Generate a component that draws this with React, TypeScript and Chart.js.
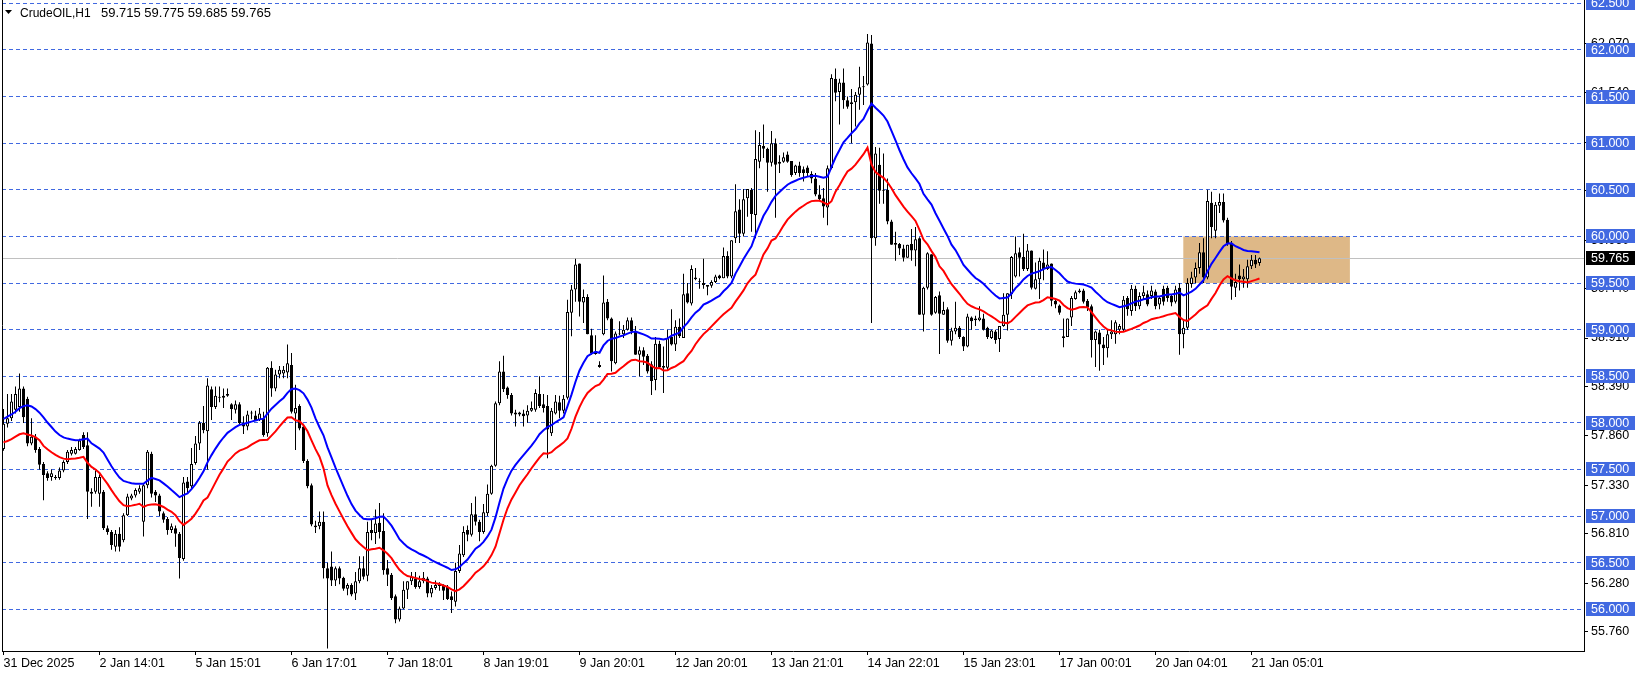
import React, { useEffect, useRef } from 'react';
import { Chart, registerables } from 'chart.js';

Chart.register(...registerables);

// ---- Data: CrudeOIL H1 candles ----
const opens = [
  57.72, 57.99, 58.05, 58.14, 58.17, 58.37, 58.26, 57.78, 57.85, 57.72,
  57.56, 57.46, 57.42, 57.42, 57.41, 57.49, 57.58, 57.67, 57.67, 57.71,
  57.87, 57.76, 57.26, 57.26, 57.24, 57.26, 56.87, 56.83, 56.67, 56.81,
  56.74, 57.01, 57.19, 57.22, 57.26, 56.94, 57.33, 57.67, 57.26, 57.22,
  57.03, 56.97, 56.85, 56.87, 56.81, 56.54, 57.37, 57.32, 57.57, 57.78,
  58.00, 57.91, 58.36, 58.17, 58.28, 58.27, 58.29, 58.20, 58.14, 58.20,
  58.00, 57.96, 58.10, 58.08, 58.03, 58.05, 57.89, 58.59, 58.37, 58.52,
  58.53, 58.54, 58.62, 58.10, 58.18, 57.96, 57.59, 57.33, 56.90, 56.89,
  56.94, 56.44, 56.46, 56.31, 56.44, 56.34, 56.22, 56.26, 56.17, 56.30,
  56.44, 56.36, 56.85, 56.82, 56.93, 56.84, 56.44, 56.37, 56.14, 55.89,
  56.01, 56.21, 56.30, 56.33, 56.24, 56.30, 56.33, 56.17, 56.23, 56.25,
  56.25, 56.24, 56.14, 56.08, 56.41, 56.58, 56.85, 56.80, 57.02, 56.94,
  56.83, 57.03, 57.24, 57.54, 58.21, 58.55, 58.38, 58.30, 58.11, 58.09,
  58.10, 58.08, 58.13, 58.14, 58.31, 58.20, 58.18, 57.89, 58.10, 58.22,
  58.13, 58.27, 59.18, 59.43, 59.71, 59.29, 59.35, 58.94, 58.76, 58.62,
  58.95, 59.30, 59.12, 58.64, 58.95, 58.95, 59.00, 59.10, 58.98, 58.73,
  58.78, 58.72, 58.63, 58.46, 58.85, 58.61, 58.59, 58.92, 58.84, 59.03,
  58.91, 59.39, 59.28, 59.56, 59.52, 59.50, 59.48, 59.47, 59.51, 59.58,
  59.55, 59.79, 59.57, 59.98, 60.29, 60.03, 60.41, 60.50, 60.23, 60.80,
  60.97, 60.94, 60.79, 61.00, 60.78, 60.80, 60.88, 60.81, 60.68, 60.76,
  60.72, 60.74, 60.67, 60.62, 60.45, 60.41, 60.31, 60.73, 61.69, 61.55,
  61.65, 61.46, 61.42, 61.44, 61.52, 61.60, 61.63, 62.07, 59.98, 60.77,
  60.50, 60.50, 60.16, 59.93, 59.92, 59.87, 59.77, 59.92, 59.85, 59.98,
  59.16, 59.45, 59.81, 59.18, 59.37, 59.16, 59.22, 58.88, 58.98, 59.02,
  58.92, 58.82, 59.13, 59.10, 59.10, 59.12, 59.02, 58.91, 58.98, 58.90,
  59.04, 59.16, 59.38, 59.57, 59.83, 59.78, 59.65, 59.85, 59.44, 59.54,
  59.72, 59.65, 59.71, 59.31, 59.26, 58.93, 58.92, 59.13, 59.33, 59.40,
  59.42, 59.31, 59.25, 58.89, 58.97, 58.84, 58.80, 58.95, 58.95, 59.00,
  59.00, 59.34, 59.20, 59.44, 59.25, 59.36, 59.38, 59.36, 59.41, 59.27,
  59.44, 59.45, 59.36, 59.30, 59.45, 58.95, 59.02, 59.49, 59.56, 59.66,
  59.83, 59.56, 60.36, 60.06, 60.33, 60.37, 60.18, 59.93, 59.45, 59.58,
  59.54, 59.54, 59.68, 59.75, 59.715,
];

const highs = [
  58.15, 58.31, 58.31, 58.39, 58.53, 58.39, 58.28, 58.05, 57.88, 57.74,
  57.58, 57.48, 57.50, 57.44, 57.52, 57.60, 57.71, 57.74, 57.74, 57.83,
  57.90, 57.90, 57.30, 57.49, 57.45, 57.28, 56.90, 56.85, 56.85, 56.88,
  57.03, 57.24, 57.24, 57.30, 57.33, 57.35, 57.71, 57.69, 57.28, 57.24,
  57.05, 56.99, 56.92, 56.90, 56.83, 57.42, 57.42, 57.73, 57.86, 58.02,
  58.18, 58.48, 58.39, 58.39, 58.39, 58.37, 58.37, 58.21, 58.24, 58.22,
  58.07, 58.13, 58.13, 58.13, 58.16, 58.12, 58.60, 58.66, 58.57, 58.61,
  58.61, 58.84, 58.75, 58.41, 58.20, 57.99, 57.61, 57.35, 56.95, 57.05,
  57.05, 56.50, 56.62, 56.46, 56.46, 56.35, 56.28, 56.28, 56.40, 56.57,
  56.57, 56.94, 56.96, 57.07, 57.14, 57.03, 56.53, 56.39, 56.16, 56.03,
  56.30, 56.30, 56.40, 56.40, 56.36, 56.40, 56.35, 56.26, 56.31, 56.29,
  56.27, 56.26, 56.19, 56.50, 56.69, 56.89, 56.90, 57.14, 57.21, 56.96,
  57.13, 57.34, 57.55, 58.23, 58.66, 58.72, 58.39, 58.32, 58.14, 58.12,
  58.14, 58.19, 58.23, 58.36, 58.50, 58.31, 58.30, 58.16, 58.30, 58.29,
  58.30, 59.32, 59.48, 59.76, 59.71, 59.43, 59.38, 59.01, 58.94, 58.66,
  59.58, 59.33, 59.13, 58.98, 59.09, 59.05, 59.13, 59.13, 59.04, 58.82,
  58.81, 58.74, 58.66, 58.92, 58.88, 58.82, 59.00, 59.22, 59.10, 59.12,
  59.60, 59.50, 59.69, 59.66, 59.55, 59.76, 59.48, 59.53, 59.59, 59.59,
  59.88, 59.84, 59.96, 60.56, 60.40, 60.51, 60.51, 60.52, 61.14, 61.12,
  61.20, 60.95, 61.13, 61.05, 60.87, 60.90, 60.91, 60.81, 60.77, 60.80,
  60.75, 60.76, 60.70, 60.68, 60.55, 60.52, 60.76, 61.74, 61.80, 61.69,
  61.80, 61.50, 61.58, 61.55, 61.82, 61.72, 62.17, 62.16, 60.96, 60.95,
  60.89, 60.62, 60.18, 60.05, 59.93, 59.91, 59.91, 60.08, 60.10, 59.99,
  59.46, 59.83, 59.81, 59.36, 59.41, 59.30, 59.24, 59.02, 59.30, 59.04,
  58.93, 59.17, 59.14, 59.15, 59.25, 59.17, 59.03, 59.00, 59.00, 59.04,
  59.39, 59.39, 59.79, 60.00, 59.88, 60.03, 59.92, 59.85, 59.72, 59.77,
  59.86, 59.84, 59.71, 59.33, 59.27, 59.12, 59.12, 59.36, 59.42, 59.44,
  59.44, 59.33, 59.27, 58.99, 59.00, 58.92, 59.00, 59.10, 59.10, 59.06,
  59.36, 59.36, 59.48, 59.47, 59.40, 59.47, 59.42, 59.47, 59.43, 59.36,
  59.47, 59.47, 59.38, 59.47, 59.50, 59.10, 59.55, 59.62, 59.72, 59.93,
  59.98, 60.50, 60.48, 60.37, 60.46, 60.46, 60.20, 59.95, 59.60, 59.70,
  59.65, 59.75, 59.80, 59.80, 59.775,
];

const lows = [
  57.70, 57.95, 58.02, 58.10, 58.12, 58.00, 57.75, 57.76, 57.68, 57.50,
  57.17, 57.38, 57.38, 57.39, 57.39, 57.47, 57.56, 57.65, 57.66, 57.70,
  57.72, 56.97, 57.10, 57.24, 57.10, 56.85, 56.80, 56.64, 56.62, 56.62,
  56.72, 57.00, 57.17, 57.20, 57.24, 56.78, 57.30, 57.20, 57.15, 57.00,
  56.93, 56.80, 56.82, 56.67, 56.33, 56.52, 57.25, 57.30, 57.55, 57.71,
  57.89, 57.50, 58.03, 58.15, 58.22, 58.16, 58.28, 58.03, 58.10, 57.98,
  57.88, 57.92, 58.04, 58.02, 58.02, 57.85, 57.85, 58.28, 58.34, 58.48,
  58.48, 58.48, 58.10, 57.71, 57.92, 57.57, 57.30, 56.89, 56.82, 56.86,
  56.33, 55.58, 56.25, 56.25, 56.27, 56.20, 56.15, 56.14, 56.10, 56.28,
  56.32, 56.30, 56.74, 56.70, 56.76, 56.37, 56.25, 56.10, 55.85, 55.87,
  56.00, 56.11, 56.26, 56.22, 56.22, 56.28, 56.13, 56.13, 56.21, 56.20,
  56.10, 56.10, 55.96, 56.03, 56.39, 56.56, 56.73, 56.78, 56.90, 56.73,
  56.81, 57.00, 57.23, 57.53, 58.19, 58.33, 58.26, 58.08, 57.96, 58.07,
  57.96, 58.00, 58.12, 58.12, 58.16, 58.11, 57.62, 57.86, 58.09, 58.05,
  58.10, 58.25, 58.93, 59.30, 59.14, 59.07, 58.95, 58.73, 58.73, 58.59,
  58.94, 59.10, 58.55, 58.63, 58.94, 58.91, 58.99, 58.95, 58.73, 58.50,
  58.62, 58.53, 58.30, 58.35, 58.60, 58.32, 58.57, 58.83, 58.77, 58.91,
  58.91, 59.28, 59.26, 59.53, 59.44, 59.44, 59.37, 59.45, 59.50, 59.54,
  59.55, 59.55, 59.55, 59.93, 59.93, 60.00, 60.21, 60.05, 59.98, 60.73,
  60.84, 60.48, 60.75, 60.20, 60.68, 60.79, 60.79, 60.64, 60.66, 60.64,
  60.59, 60.64, 60.57, 60.43, 60.38, 60.20, 60.12, 60.72, 61.45, 61.20,
  61.37, 61.37, 61.00, 61.18, 61.36, 61.41, 61.62, 59.07, 59.90, 60.35,
  60.35, 60.13, 59.91, 59.74, 59.80, 59.73, 59.77, 59.74, 59.68, 59.16,
  58.98, 59.43, 59.15, 59.17, 58.74, 59.16, 58.86, 58.83, 58.95, 58.90,
  58.77, 58.81, 59.00, 59.04, 59.09, 58.99, 58.90, 58.90, 58.85, 58.76,
  59.03, 58.99, 59.33, 59.56, 59.57, 59.63, 59.63, 59.43, 59.43, 59.33,
  59.53, 59.64, 59.25, 59.23, 59.16, 58.81, 58.92, 59.04, 59.32, 59.39,
  59.28, 59.20, 58.70, 58.60, 58.56, 58.62, 58.70, 58.90, 58.85, 58.95,
  58.98, 59.15, 59.15, 59.20, 59.22, 59.33, 59.25, 59.33, 59.22, 59.22,
  59.26, 59.30, 59.25, 59.28, 58.73, 58.80, 59.00, 59.45, 59.50, 59.60,
  59.50, 59.54, 59.98, 59.98, 60.25, 60.15, 59.90, 59.32, 59.35, 59.42,
  59.45, 59.45, 59.65, 59.66, 59.685,
];

const closes = [
  57.99, 58.05, 58.23, 58.31, 58.37, 58.06, 57.78, 57.85, 57.71, 57.55,
  57.44, 57.41, 57.46, 57.41, 57.49, 57.58, 57.69, 57.71, 57.72, 57.81,
  57.74, 57.26, 57.24, 57.42, 57.42, 56.87, 56.83, 56.69, 56.81, 56.67,
  57.01, 57.21, 57.22, 57.28, 57.30, 57.33, 57.69, 57.24, 57.22, 57.05,
  56.96, 56.85, 56.89, 56.81, 56.55, 57.36, 57.30, 57.56, 57.78, 58.00,
  57.92, 58.40, 58.17, 58.29, 58.27, 58.29, 58.31, 58.15, 58.20, 58.00,
  57.96, 58.09, 58.11, 58.03, 58.10, 57.87, 58.59, 58.37, 58.52, 58.57,
  58.57, 58.64, 58.12, 58.16, 57.94, 57.59, 57.32, 56.91, 56.88, 56.94,
  56.44, 56.33, 56.31, 56.44, 56.33, 56.22, 56.26, 56.16, 56.30, 56.44,
  56.35, 56.83, 56.82, 56.92, 56.83, 56.42, 56.37, 56.12, 55.89, 56.01,
  56.21, 56.30, 56.35, 56.24, 56.30, 56.34, 56.17, 56.23, 56.26, 56.27,
  56.20, 56.11, 56.10, 56.41, 56.60, 56.83, 56.80, 57.02, 56.94, 56.83,
  57.04, 57.24, 57.54, 58.21, 58.55, 58.36, 58.30, 58.10, 58.09, 58.11,
  58.07, 58.13, 58.16, 58.32, 58.18, 58.16, 57.93, 58.13, 58.23, 58.13,
  58.26, 59.19, 59.43, 59.70, 59.30, 59.35, 58.95, 58.75, 58.74, 58.60,
  59.29, 59.12, 58.66, 58.96, 58.96, 59.00, 59.10, 58.98, 58.73, 58.78,
  58.71, 58.55, 58.45, 58.85, 58.60, 58.59, 58.91, 58.84, 59.03, 58.93,
  59.38, 59.29, 59.65, 59.54, 59.51, 59.48, 59.46, 59.51, 59.57, 59.55,
  59.79, 59.57, 59.96, 60.27, 60.03, 60.40, 60.51, 60.24, 60.83, 60.98,
  60.94, 60.79, 61.00, 60.77, 60.80, 60.85, 60.80, 60.66, 60.76, 60.68,
  60.68, 60.68, 60.62, 60.45, 60.40, 60.32, 60.73, 61.70, 61.54, 61.65,
  61.46, 61.39, 61.44, 61.52, 61.60, 61.61, 62.08, 59.98, 60.89, 60.49,
  60.49, 60.16, 59.91, 59.91, 59.87, 59.77, 59.91, 59.85, 59.97, 59.16,
  59.45, 59.82, 59.16, 59.35, 59.17, 59.21, 58.88, 58.99, 59.02, 58.92,
  58.82, 59.14, 59.09, 59.12, 59.13, 59.00, 58.92, 58.99, 58.89, 59.04,
  59.16, 59.39, 59.78, 59.82, 59.77, 59.65, 59.85, 59.45, 59.54, 59.74,
  59.65, 59.70, 59.31, 59.27, 59.18, 58.91, 59.12, 59.34, 59.40, 59.42,
  59.30, 59.24, 58.89, 58.98, 58.84, 58.80, 58.95, 58.98, 59.08, 59.04,
  59.32, 59.22, 59.44, 59.25, 59.36, 59.40, 59.27, 59.42, 59.25, 59.34,
  59.30, 59.34, 59.29, 59.43, 58.95, 59.02, 59.50, 59.56, 59.66, 59.83,
  59.56, 60.38, 60.10, 60.34, 60.37, 60.17, 59.93, 59.46, 59.51, 59.54,
  59.57, 59.68, 59.75, 59.70, 59.765,
];

// Time-axis labels (one every 24 hourly bars)
const xTickLabels = [
  '31 Dec 2025', '2 Jan 14:01', '5 Jan 15:01', '6 Jan 17:01', '7 Jan 18:01',
  '8 Jan 19:01', '9 Jan 20:01', '12 Jan 20:01', '13 Jan 21:01', '14 Jan 22:01',
  '15 Jan 23:01', '17 Jan 00:01', '20 Jan 04:01', '21 Jan 05:01',
];
const BARS_PER_LABEL = 24;

// Price-scale tick labels
const yTickValues = [55.76, 56.28, 56.81, 57.33, 57.86, 58.39, 58.91, 59.44, 59.96, 60.49, 61.01, 61.54, 62.07];

// Horizontal level lines drawn by the user
const levelLines = [56.0, 56.5, 57.0, 57.5, 58.0, 58.5, 59.0, 59.5, 60.0, 60.5, 61.0, 61.5, 62.0, 62.5];

const symbolName = 'CrudeOIL,H1';
const currentPrice = 59.765;

// Highlighted zone (bar-index range and price range)
const zoneStartBar = 294.95;
const zoneEndBar = 336.6;
const zoneTop = 60.0;
const zoneBottom = 59.5;

// Indicator settings: EMA(20) on highs (blue) and on lows (red)
const EMA_PERIOD = 20;
const emaHighStart = 58.03;
const emaLowStart = 57.80;

const FONT = '"Liberation Sans", Arial, sans-serif';
const FONT_SIZE = 12.5;

function emaSeries(values: number[], start: number, period: number): number[] {
  const k = 2 / (period + 1);
  let prev = start;
  return values.map((v) => (prev = prev + k * (v - prev)));
}

export default function App() {
  const canvasRef = useRef<HTMLCanvasElement | null>(null);

  useEffect(() => {
    document.body.style.margin = '0';
    const canvas = canvasRef.current;
    if (!canvas) return;

    const idx = closes.map((_, i) => i);
    const emaHigh = emaSeries(highs, emaHighStart, EMA_PERIOD);
    const emaLow = emaSeries(lows, emaLowStart, EMA_PERIOD);

    const overlayPlugin = {
      id: 'mtOverlay',
      beforeDatasetsDraw(chart: any) {
        const { ctx, chartArea, scales } = chart;
        const xs = scales.x;
        const ys = scales.y;
        ctx.save();
        ctx.beginPath();
        ctx.rect(chartArea.left, chartArea.top, chartArea.right - chartArea.left, chartArea.bottom - chartArea.top);
        ctx.clip();
        // zone
        const zx1 = xs.getPixelForValue(zoneStartBar);
        const zx2 = xs.getPixelForValue(zoneEndBar);
        const zy1 = ys.getPixelForValue(zoneTop);
        const zy2 = ys.getPixelForValue(zoneBottom);
        ctx.fillStyle = '#DEB887';
        ctx.fillRect(zx1, zy1, zx2 - zx1, zy2 - zy1);
        // dashed levels
        ctx.strokeStyle = '#4169E1';
        ctx.lineWidth = 1;
        ctx.setLineDash([4, 3]);
        for (const v of levelLines) {
          const y = Math.floor(ys.getPixelForValue(v)) + 0.5;
          ctx.beginPath();
          ctx.moveTo(chartArea.left, y);
          ctx.lineTo(chartArea.right, y);
          ctx.stroke();
        }
        ctx.setLineDash([]);
        // current price line
        const cy = Math.floor(ys.getPixelForValue(currentPrice)) + 0.5;
        ctx.strokeStyle = '#C0C0C0';
        ctx.beginPath();
        ctx.moveTo(chartArea.left, cy);
        ctx.lineTo(chartArea.right, cy);
        ctx.stroke();
        ctx.restore();
      },
      afterDraw(chart: any) {
        const { ctx, chartArea, scales } = chart;
        const ys = scales.y;
        ctx.save();
        // left frame line
        ctx.strokeStyle = '#000';
        ctx.lineWidth = 1;
        ctx.beginPath();
        ctx.moveTo(chartArea.left + 0.5, 0);
        ctx.lineTo(chartArea.left + 0.5, chartArea.bottom);
        ctx.stroke();
        // level labels
        ctx.font = `${FONT_SIZE}px ${FONT}`;
        ctx.textBaseline = 'middle';
        ctx.textAlign = 'left';
        const bx = chartArea.right + 2;
        for (const v of levelLines) {
          const y = Math.round(ys.getPixelForValue(v));
          ctx.fillStyle = '#4169E1';
          ctx.fillRect(bx, y - 7, 49, 14);
          ctx.fillStyle = '#FFFFFF';
          ctx.fillText(v.toFixed(3), bx + 5, y + 0.5);
        }
        // current price label
        const cy = Math.round(ys.getPixelForValue(currentPrice));
        ctx.fillStyle = '#000000';
        ctx.fillRect(bx, cy - 7, 49, 14);
        ctx.fillStyle = '#FFFFFF';
        ctx.fillText(currentPrice.toFixed(3), bx + 5, cy + 0.5);
        // title / OHLC legend
        const last = closes.length - 1;
        ctx.fillStyle = '#000';
        ctx.beginPath();
        ctx.moveTo(5, 10);
        ctx.lineTo(12, 10);
        ctx.lineTo(8.5, 14);
        ctx.closePath();
        ctx.fill();
        ctx.textBaseline = 'alphabetic';
        ctx.font = `12px ${FONT}`;
        ctx.fillText(symbolName, 20, 17);
        ctx.font = `13px ${FONT}`;
        const ohlc = [opens[last], highs[last], lows[last], closes[last]].map((v) => v.toFixed(3)).join(' ');
        ctx.fillText(ohlc, 101, 17);
        ctx.restore();
      },
    };

    const chart = new Chart(canvas, {
      type: 'bar',
      data: {
        datasets: [
          {
            type: 'line',
            label: 'EMA high',
            data: idx.map((i) => ({ x: i, y: emaHigh[i] })),
            borderColor: '#0000FF',
            borderWidth: 2,
            pointRadius: 0,
            tension: 0,
            fill: false,
            order: 0,
          } as any,
          {
            type: 'line',
            label: 'EMA low',
            data: idx.map((i) => ({ x: i, y: emaLow[i] })),
            borderColor: '#FF0000',
            borderWidth: 2,
            pointRadius: 0,
            tension: 0,
            fill: false,
            order: 0,
          } as any,
          {
            type: 'bar',
            label: 'body',
            data: idx.map((i) => ({ x: i, y: [opens[i], closes[i]] })),
            backgroundColor: (c: any) => (closes[c.dataIndex] >= opens[c.dataIndex] ? '#FFFFFF' : '#000000'),
            borderColor: '#000000',
            borderWidth: 1,
            borderSkipped: false,
            inflateAmount: 0,
            barThickness: 3,
            stack: 'candles',
            order: 1,
          } as any,
          {
            type: 'bar',
            label: 'wick',
            data: idx.map((i) => ({ x: i, y: [lows[i], highs[i]] })),
            backgroundColor: '#000000',
            borderWidth: 0,
            inflateAmount: 0,
            barThickness: 1,
            stack: 'candles',
            order: 2,
          } as any,
        ],
      },
      options: {
        responsive: false,
        maintainAspectRatio: false,
        animation: false,
        events: [],
        layout: { padding: { left: 2, top: 0, right: 0, bottom: 0 } },
        plugins: {
          legend: { display: false },
          tooltip: { enabled: false },
          title: { display: false },
        },
        scales: {
          x: {
            type: 'linear',
            min: -0.375,
            max: 395.125,
            offset: false,
            grid: {
              display: true,
              offset: false,
              drawOnChartArea: false,
              drawTicks: true,
              tickLength: 4,
              color: '#000000',
              lineWidth: 1,
            },
            border: { display: true, color: '#000000', width: 1 },
            ticks: {
              autoSkip: false,
              maxRotation: 0,
              minRotation: 0,
              align: 'start',
              padding: 1,
              color: '#000000',
              font: { family: FONT, size: FONT_SIZE },
              callback: (_v: any, i: number) => xTickLabels[i],
            },
            afterBuildTicks: (s: any) => {
              s.ticks = xTickLabels.map((_, k) => ({ value: k * BARS_PER_LABEL }));
            },
            afterFit: (s: any) => {
              s.height = 24;
              s.paddingLeft = 0;
              s.paddingRight = 0;
            },
          },
          y: {
            type: 'linear',
            position: 'right',
            min: 55.553,
            max: 62.536,
            stacked: false,
            grid: {
              display: true,
              drawOnChartArea: false,
              drawTicks: true,
              tickLength: 4,
              color: '#000000',
              lineWidth: 1,
            },
            border: { display: true, color: '#000000', width: 1 },
            ticks: {
              padding: 3,
              color: '#000000',
              font: { family: FONT, size: FONT_SIZE },
              callback: (v: any) => Number(v).toFixed(3),
            },
            afterBuildTicks: (s: any) => {
              s.ticks = yTickValues.map((v) => ({ value: v }));
            },
            afterFit: (s: any) => {
              s.width = 57;
              s.paddingTop = 0;
              s.paddingBottom = 0;
            },
          },
        },
      } as any,
      plugins: [overlayPlugin],
    });

    return () => chart.destroy();
  }, []);

  return (
    <div style={{ width: 1641, height: 675, background: '#FFFFFF' }}>
      <canvas ref={canvasRef} width={1641} height={675} style={{ display: 'block' }} />
    </div>
  );
}
